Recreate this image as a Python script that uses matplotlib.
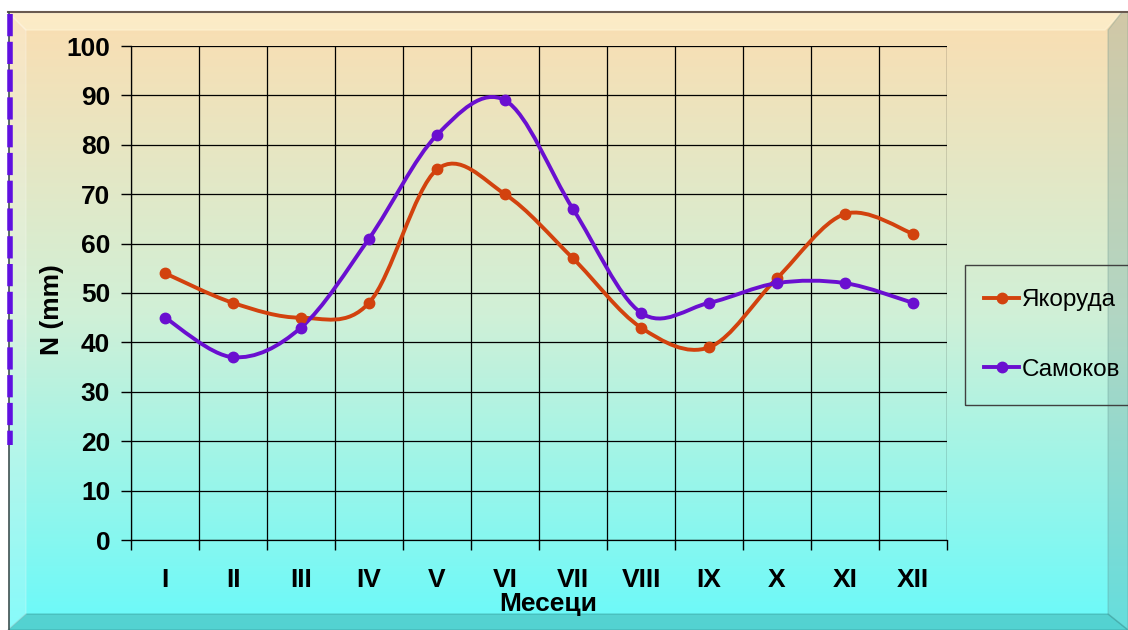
import numpy as np
import matplotlib.pyplot as plt
from matplotlib.path import Path
from matplotlib.patches import PathPatch, Polygon, Rectangle
from matplotlib.lines import Line2D

plt.rcParams["font.family"] = ["Liberation Sans", "DejaVu Sans"]

# Данни
meseci = ["I", "II", "III", "IV", "V", "VI", "VII", "VIII", "IX", "X", "XI", "XII"]
yakoruda = [54, 48, 45, 48, 75, 70, 57, 43, 39, 53, 66, 62]
samokov = [45, 37, 43, 61, 82, 89, 67, 46, 48, 52, 52, 48]

c_yak = "#D2420E"
c_sam = "#6A0FD0"


def smooth_path(x, y):
    # Catmull-Rom -> Bezier, като "изгладена линия" в Excel
    pts = np.column_stack([x, y]).astype(float)
    n = len(pts)
    verts = [pts[0]]
    codes = [Path.MOVETO]
    for i in range(n - 1):
        p0 = pts[i - 1] if i > 0 else pts[i]
        p1 = pts[i]
        p2 = pts[i + 1]
        p3 = pts[i + 2] if i + 2 < n else pts[i + 1]
        c1 = p1 + (p2 - p0) / 6.0
        c2 = p2 - (p3 - p1) / 6.0
        verts += [c1, c2, p2]
        codes += [Path.CURVE4] * 3
    return Path(verts, codes)


fig = plt.figure(figsize=(11.28, 6.3), dpi=100)

# фон с градиент
bg = fig.add_axes([0, 0, 1, 1], zorder=-10)
bg.set_axis_off()
top = np.array([252, 221, 176]) / 255
mid = np.array([208, 240, 215]) / 255
bot = np.array([105, 250, 250]) / 255
t = np.linspace(0, 1, 256)[:, None]
grad = np.where(t < 0.5, top + (mid - top) * (t / 0.5), mid + (bot - mid) * ((t - 0.5) / 0.5))
bg.imshow(grad[:, None, :].repeat(2, axis=1), aspect="auto", extent=[0, 1, 0, 1])
bg.set_xlim(0, 1)
bg.set_ylim(0, 1)

W, H = 1128, 630


def fx(px):
    return px / W


def fy(py):
    return 1 - py / H


# бяло над рамката
bg.add_patch(Rectangle((0, fy(12)), 1, 1, color="white", zorder=1))
bg.add_patch(Rectangle((0, 0), fx(8), 1, color="white", zorder=1))
# скосени ръбове
bg.add_patch(Polygon([(fx(8), fy(12)), (fx(1122), fy(12)), (fx(1105), fy(30)), (fx(26), fy(30))],
                     closed=True, color="#FFF6D8", alpha=0.55, zorder=2))
bg.add_patch(Polygon([(fx(1122), fy(12)), (fx(1128), fy(12)), (fx(1128), fy(630)), (fx(1108), fy(614)), (fx(1108), fy(30))],
                     closed=True, color="#5A8A88", alpha=0.25, zorder=2))
bg.add_patch(Polygon([(fx(8), fy(630)), (fx(1128), fy(630)), (fx(1108), fy(614)), (fx(26), fy(614))],
                     closed=True, color="#2A8A88", alpha=0.35, zorder=2))
bg.add_patch(Polygon([(fx(8), fy(12)), (fx(26), fy(30)), (fx(26), fy(614)), (fx(8), fy(630))],
                     closed=True, color="#FFFFFF", alpha=0.2, zorder=2))
bg.plot([fx(8), fx(1128)], [fy(12), fy(12)], color="#6A5A50", lw=1.5, zorder=3)
bg.plot([fx(9), fx(9)], [fy(12), fy(630)], color="#405050", lw=1.2, zorder=3)
bg.plot([fx(10), fx(10)], [fy(14), fy(445)], color="#6010E0", lw=4, ls=(0, (4, 1)), zorder=4)

ax = fig.add_axes([131 / W, 90 / H, 816 / W, 494 / H])
ax.set_facecolor("none")
x = np.arange(len(meseci))

for vals, col in [(yakoruda, c_yak), (samokov, c_sam)]:
    ax.add_patch(PathPatch(smooth_path(x, vals), facecolor="none", edgecolor=col, lw=2.8,
                           capstyle="round", joinstyle="round", zorder=3))
    ax.plot(x, vals, "o", color=col, ms=7.5, zorder=4)

ax.set_xlim(-0.5, 11.5)
ax.set_ylim(0, 100)
ax.set_yticks(range(0, 101, 10))
ax.set_xticks(x)
ax.set_xticklabels(meseci)
ax.set_xticks(np.arange(-0.5, 12, 1), minor=True)
ax.tick_params(axis="x", which="major", length=0, pad=20, labelsize=19)
ax.tick_params(axis="x", which="minor", length=7, width=1, direction="out")
ax.tick_params(axis="y", length=7, width=1, direction="out", labelsize=19, pad=8)
for lab in ax.get_xticklabels() + ax.get_yticklabels():
    lab.set_fontweight("bold")
ax.grid(True, which="minor", axis="x", color="black", lw=0.9)
ax.grid(True, which="major", axis="y", color="black", lw=0.9)
ax.grid(False, which="major", axis="x")
for s in ["top", "right"]:
    ax.spines[s].set_visible(False)
ax.spines["left"].set_linewidth(0.9)
ax.spines["bottom"].set_linewidth(0.9)

fig.text(fx(52), fy(310), "N (mm)", ha="center", va="center", rotation=90,
         fontsize=19, fontweight="bold")
fig.text(fx(548), fy(604), "Месеци", ha="center", va="center", fontsize=19, fontweight="bold")

# легенда
bg.add_patch(Rectangle((fx(965), fy(405)), fx(1160) - fx(965), fy(265) - fy(405),
                       facecolor="none", edgecolor="#404040", lw=1, zorder=5))
handles = [Line2D([], [], color=c_yak, lw=2.8, marker="o", ms=7.5),
           Line2D([], [], color=c_sam, lw=2.8, marker="o", ms=7.5)]
fig.legend(handles, ["Якоруда", "Самоков"], loc="center left", bbox_to_anchor=(fx(972), fy(335)),
           frameon=False, fontsize=17.5, handlelength=1.45, handletextpad=0.1, labelspacing=1.95,
           borderpad=0)

fig.savefig("out.png", dpi=100)
